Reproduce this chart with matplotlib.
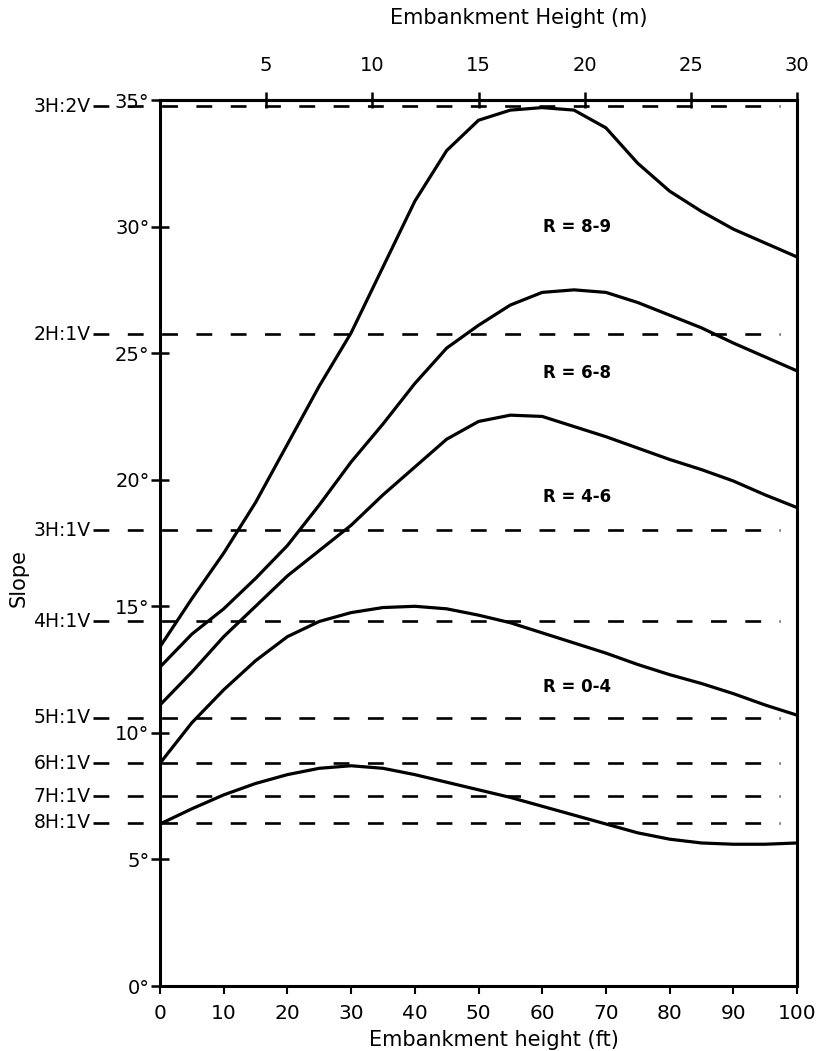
import numpy as np
import matplotlib.pyplot as plt

# embankment height (ft) and slope (deg)
height_ft = [0, 5, 10, 15, 20, 25, 30, 35, 40, 45, 50,
             55, 60, 65, 70, 75, 80, 85, 90, 95, 100]
r_8_9 = [13.4, 15.3, 17.1, 19.1, 21.4, 23.7, 25.8, 28.4, 31.0, 33.0, 34.2,
         34.6, 34.7, 34.6, 33.9, 32.5, 31.4, 30.6, 29.9, 29.35, 28.8]
r_6_8 = [12.6, 13.9, 14.9, 16.1, 17.4, 19.0, 20.7, 22.2, 23.8, 25.2, 26.1,
         26.9, 27.4, 27.5, 27.4, 27.0, 26.5, 26.0, 25.4, 24.85, 24.3]
r_4_6 = [11.1, 12.4, 13.8, 15.0, 16.2, 17.2, 18.2, 19.4, 20.5, 21.6, 22.3,
         22.55, 22.5, 22.1, 21.7, 21.25, 20.8, 20.4, 19.95, 19.4, 18.9]
r_0_4 = [8.8, 10.4, 11.7, 12.85, 13.8, 14.4, 14.75, 14.95, 15.0, 14.9, 14.65,
         14.35, 13.95, 13.55, 13.15, 12.7, 12.3, 11.95, 11.55, 11.1, 10.7]
r_low = [6.4, 7.0, 7.55, 8.0, 8.35, 8.6, 8.7, 8.6, 8.35, 8.05, 7.75,
         7.45, 7.1, 6.75, 6.4, 6.05, 5.8, 5.65, 5.6, 5.6, 5.65]
curves = [r_8_9, r_6_8, r_4_6, r_0_4, r_low]

# H:V slope reference lines (deg, as drawn)
hv_labels = ['3H:2V', '2H:1V', '3H:1V', '4H:1V', '5H:1V', '6H:1V', '7H:1V', '8H:1V']
hv_deg = [34.75, 25.75, 18.0, 14.4, 10.6, 8.8, 7.5, 6.45]

r_labels = ['R = 8-9', 'R = 6-8', 'R = 4-6', 'R = 0-4']
r_label_deg = [30.0, 24.2, 19.3, 11.8]

deg_ticks = [0, 5, 10, 15, 20, 25, 30, 35]
ft_ticks = [0, 10, 20, 30, 40, 50, 60, 70, 80, 90, 100]
m_ticks = [5, 10, 15, 20, 25, 30]

W, H = 821, 1051
fig = plt.figure(figsize=(W / 100, H / 100), dpi=100)
ax = fig.add_axes([160 / W, 1 - 986 / H, (797 - 160) / W, (986 - 100) / H])

for yv in curves:
    ax.plot(height_ft, yv, color='black', lw=2.3,
            solid_capstyle='round', solid_joinstyle='round')

for lab, d in zip(hv_labels, hv_deg):
    ax.plot([-10.55, 97.3], [d, d], color='black', lw=1.9,
            ls=(0, (6, 7)), clip_on=False)
    ax.text(-10.9, d, lab, ha='right', va='center', fontsize=13.5)

for lab, d in zip(r_labels, r_label_deg):
    ax.text(65.4, d, lab, ha='center', va='center', fontsize=12,
            fontweight='bold')

ax.set_xlim(0, 100)
ax.set_ylim(0, 35)
ax.set_xticks(ft_ticks)
ax.set_yticks(deg_ticks)
ax.set_yticklabels([f'{v}°' for v in deg_ticks])
ax.tick_params(axis='y', direction='inout', length=13, width=1.8,
               labelsize=14, pad=1)
ax.tick_params(axis='x', direction='out', length=6, width=1.5,
               labelsize=14.5, pad=7)
for s in ax.spines.values():
    s.set_linewidth(2.2)

top = ax.secondary_xaxis('top', functions=(lambda f: f * 0.3, lambda m: m / 0.3))
top.set_xticks(m_ticks)
top.tick_params(direction='inout', length=11.5, width=1.8, labelsize=14, pad=12)
top.spines['top'].set_linewidth(2.2)

fig.text(494 / W, 1 - 1040 / H, 'Embankment height (ft)', ha='center',
         va='center', fontsize=15)
fig.text(519 / W, 1 - 18 / H, 'Embankment Height (m)', ha='center',
         va='center', fontsize=15)
fig.text(19 / W, 1 - 578 / H, 'Slope', ha='center', va='center',
         rotation=90, fontsize=15)

plt.savefig('out.png', dpi=100)
